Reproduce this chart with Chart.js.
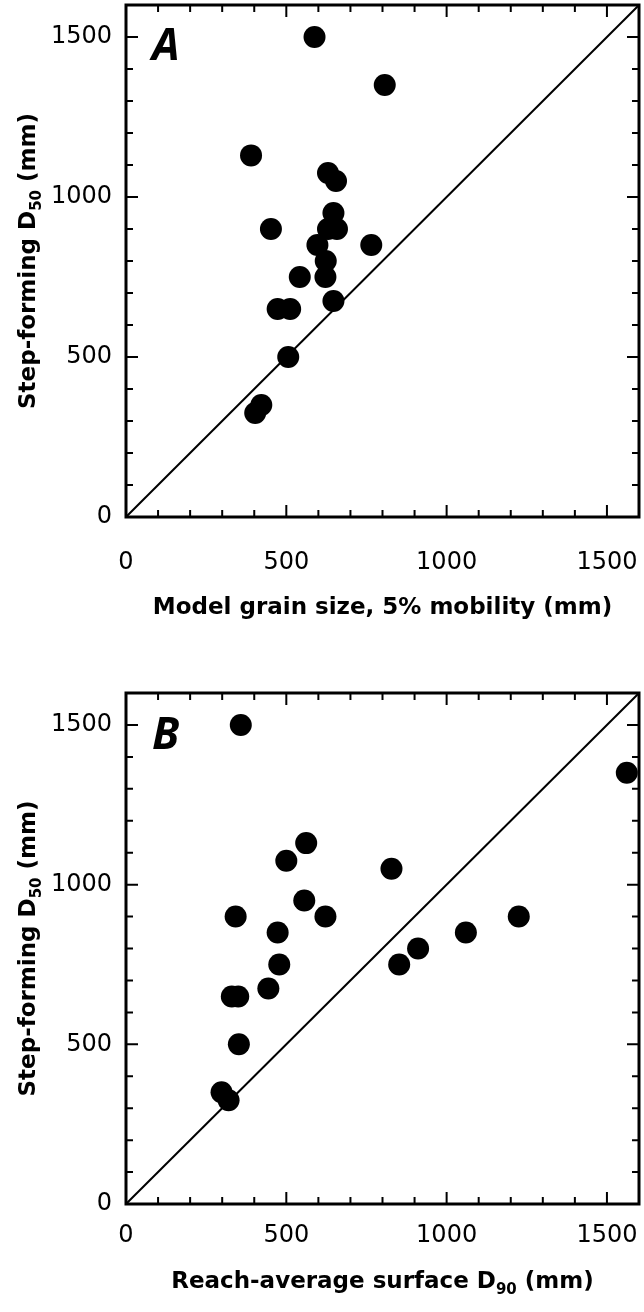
<!DOCTYPE html>
<html>
<head>
<meta charset="utf-8">
<script src="https://cdn.jsdelivr.net/npm/chart.js@4.4.1/dist/chart.umd.min.js"></script>
<style>
    body { margin: 0; background: #fff; }
    canvas { position: absolute; left: 0; display: block; }
    #chartA { top: 0; }
    #chartB { top: 656px; }
</style>
</head>
<body>
<canvas id="chartA" width="644" height="656"></canvas>
<canvas id="chartB" width="644" height="656"></canvas>
<script>
// step-forming D50 (mm), shared by both panels
const stepD50 = [1500, 1350, 1130, 1075, 1050, 950, 900, 900, 900, 850, 850, 800, 750, 750, 675, 650, 650, 500, 350, 325];
// panel A: model grain size at 5% mobility (mm)
const modelGrain = [588, 807, 390, 630, 655, 647, 452, 630, 658, 597, 765, 623, 542, 622, 647, 473, 512, 506, 422, 403];
// panel B: reach-average surface D90 (mm)
const reachD90 = [358, 1562, 562, 500, 828, 556, 342, 622, 1225, 473, 1060, 911, 478, 852, 444, 330, 350, 352, 298, 320];

const lineX = [0, 1600];
const lineY = [0, 1600];
const majorTicks = [0, 500, 1000, 1500];
const minorTicks = [100, 200, 300, 400, 500, 600, 700, 800, 900, 1000, 1100, 1200, 1300, 1400, 1500];

const tickFont = { family: 'DejaVu Sans', size: 24 };
const titleFont = 'bold 23px "DejaVu Sans"';
const subFont = 'bold 15px "DejaVu Sans"';

// draws text pieces, some of them as subscripts
function drawParts(ctx, parts, x, y) {
    let total = 0;
    parts.forEach(p => {
        ctx.font = p.sub ? subFont : titleFont;
        total += ctx.measureText(p.t).width;
    });
    let cx = x - total / 2;
    parts.forEach(p => {
        ctx.font = p.sub ? subFont : titleFont;
        ctx.fillText(p.t, cx, p.sub ? y + 6 : y);
        cx += ctx.measureText(p.t).width;
    });
}

const frameAndTitles = {
    id: 'frameAndTitles',
    afterDatasetsDraw(chart, args, opts) {
        const ctx = chart.ctx;
        const a = chart.chartArea;
        const xs = chart.scales.x;
        const ys = chart.scales.y;
        ctx.save();
        ctx.strokeStyle = '#000';
        ctx.fillStyle = '#000';
        ctx.lineWidth = 2;
        ctx.beginPath();
        minorTicks.forEach(v => {
            const len = majorTicks.includes(v) ? 12 : 7;
            const px = xs.getPixelForValue(v);
            const py = ys.getPixelForValue(v);
            ctx.moveTo(px, a.bottom); ctx.lineTo(px, a.bottom - len);
            ctx.moveTo(px, a.top); ctx.lineTo(px, a.top + len);
            ctx.moveTo(a.left, py); ctx.lineTo(a.left + len, py);
            ctx.moveTo(a.right, py); ctx.lineTo(a.right - len, py);
        });
        ctx.stroke();
        ctx.lineWidth = 3;
        ctx.strokeRect(a.left, a.top, a.right - a.left, a.bottom - a.top);

        ctx.textAlign = 'left';
        ctx.textBaseline = 'alphabetic';
        drawParts(ctx, opts.xTitle, (a.left + a.right) / 2, opts.xTitleY);

        ctx.save();
        ctx.translate(35, (a.top + a.bottom) / 2);
        ctx.rotate(-Math.PI / 2);
        drawParts(ctx, opts.yTitle, 0, 0);
        ctx.restore();

        ctx.font = 'bold italic 44px "Open Sans"';
        ctx.fillText(opts.letter, a.left + 26, a.top + opts.letterDy);
        ctx.restore();
    }
};

function makeChart(id, xValues, cfg) {
    const ctx = document.getElementById(id).getContext('2d');
    return new Chart(ctx, {
        type: 'scatter',
        data: {
            datasets: [{
                data: xValues.map((x, i) => ({ x: x, y: stepD50[i] })),
                backgroundColor: '#000',
                borderWidth: 0,
                pointRadius: 11,
                order: 0
            }, {
                data: lineX.map((x, i) => ({ x: x, y: lineY[i] })),
                showLine: true,
                borderColor: '#000',
                borderWidth: 2,
                pointRadius: 0,
                order: 1
            }]
        },
        options: {
            responsive: false,
            animation: false,
            layout: { autoPadding: false, padding: { top: cfg.top, right: 5, left: 0, bottom: 0 } },
            plugins: {
                legend: { display: false },
                tooltip: { enabled: false },
                frameAndTitles: cfg.titles
            },
            scales: {
                x: {
                    type: 'linear',
                    min: 0,
                    max: 1600,
                    afterBuildTicks: s => { s.ticks = majorTicks.map(v => ({ value: v })); },
                    afterFit: s => {
                        s.height = cfg.xHeight;
                        s.paddingLeft = 0; s.paddingRight = 0;
                    },
                    grid: { display: false, drawTicks: false },
                    border: { display: false },
                    ticks: { padding: cfg.xPad, font: tickFont, color: '#000', maxRotation: 0, callback: v => String(v) }
                },
                y: {
                    type: 'linear',
                    min: 0,
                    max: 1600,
                    afterBuildTicks: s => { s.ticks = majorTicks.map(v => ({ value: v })); },
                    afterFit: s => {
                        s.width = 126;
                        s.paddingTop = 0; s.paddingBottom = 0;
                    },
                    grid: { display: false, drawTicks: false },
                    border: { display: false },
                    ticks: { padding: 14, font: tickFont, color: '#000', callback: v => String(v) }
                }
            }
        },
        plugins: [frameAndTitles]
    });
}

makeChart('chartA', modelGrain, {
    top: 5,
    xHeight: 139,
    xPad: 31,
    titles: {
        xTitle: [{ t: 'Model grain size, 5% mobility (mm)' }],
        xTitleY: 614,
        yTitle: [{ t: 'Step-forming D' }, { t: '50', sub: true }, { t: ' (mm)' }],
        letter: 'A',
        letterDy: 55
    }
});

makeChart('chartB', reachD90, {
    top: 37,
    xHeight: 108,
    xPad: 17,
    titles: {
        xTitle: [{ t: 'Reach-average surface D' }, { t: '90', sub: true }, { t: ' (mm)' }],
        xTitleY: 632,
        yTitle: [{ t: 'Step-forming D' }, { t: '50', sub: true }, { t: ' (mm)' }],
        letter: 'B',
        letterDy: 56
    }
});
</script>
</body>
</html>
